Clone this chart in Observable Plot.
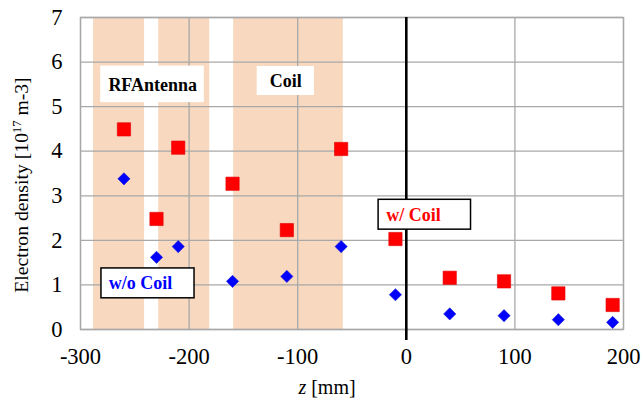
<!DOCTYPE html>
<html>
<head>
<meta charset="utf-8">
<script src="https://cdn.jsdelivr.net/npm/d3@7"></script>
<script src="https://cdn.jsdelivr.net/npm/@observablehq/plot@0.6"></script>
<style>
  html, body { margin: 0; padding: 0; background: #fff; }
  #chart svg, #chart svg text, #chart svg tspan { font-family: "Liberation Serif", "Times New Roman", "DejaVu Serif", serif !important; }
</style>
</head>
<body>
<div id="chart"></div>
<script>
// Data
const zPositions = [-260, -230, -210, -160, -110, -60, -10, 40, 90, 140, 190];
const densityWithCoil = [4.49, 2.48, 4.08, 3.27, 2.23, 4.05, 2.03, 1.16, 1.08, 0.81, 0.55];
const densityWithoutCoil = [3.38, 1.62, 1.86, 1.08, 1.19, 1.86, 0.78, 0.35, 0.31, 0.22, 0.16];

// Shaded regions (RF antenna and coil) in mm
const bandStart = [-288, -228, -159];
const bandEnd = [-241, -181, -58];

// Axis ticks
const xTicks = [-300, -200, -100, 0, 100, 200];
const yTicks = [0, 1, 2, 3, 4, 5, 6, 7];

// Annotation labels (data coordinates)
const plainLabels = [
  {text: "RFAntenna", x: -233.5, y: 5.47, x1: -281.4, x2: -186, y1: 5.09, y2: 5.91},
  {text: "Coil", x: -111, y: 5.57, x1: -137.3, x2: -84.6, y1: 5.25, y2: 5.9}
];
const seriesLabels = [
  {text: "w/o Coil", color: "#0000ff", x: -274, y: 1.03, x1: -280.7, x2: -195, y1: 0.70, y2: 1.37},
  {text: "w/ Coil", color: "#ff0000", x: -18.5, y: 2.57, x1: -25.5, x2: 59.6, y1: 2.24, y2: 2.91}
];

const bands = bandStart.map((s, i) => ({x1: s, x2: bandEnd[i]}));
const redPts = zPositions.map((z, i) => ({z, v: densityWithCoil[i]}));
const bluePts = zPositions.map((z, i) => ({z, v: densityWithoutCoil[i]}));

const gridColor = "#a8a8a8";
const font = "Liberation Serif, serif";

const chart = Plot.plot({
  width: 644,
  height: 407,
  marginLeft: 80,
  marginRight: 21,
  marginTop: 17,
  marginBottom: 78,
  style: {fontFamily: font, fontSize: "22.5px", color: "#000", background: "#fff"},
  x: {domain: [-300, 200], ticks: xTicks, tickFormat: d => String(d), label: null, tickSize: 0, tickPadding: 19},
  y: {domain: [0, 7], ticks: yTicks, tickFormat: d => String(d), label: null, tickSize: 0, tickPadding: 18},
  marks: [
    Plot.rectY(bands, {x1: "x1", x2: "x2", y1: 0, y2: 7, fill: "#f8d9c0"}),
    Plot.gridY(yTicks, {stroke: gridColor, strokeOpacity: 1, strokeWidth: 1.3}),
    Plot.gridX(xTicks, {stroke: gridColor, strokeOpacity: 1, strokeWidth: 1.3}),
    Plot.frame({stroke: gridColor, strokeWidth: 1.3}),
    Plot.ruleX([0], {y1: 7, y2: 0, stroke: "#000", strokeWidth: 2.6, insetBottom: -11}),
    Plot.rect(plainLabels, {x1: "x1", x2: "x2", y1: "y1", y2: "y2", fill: "#fff"}),
    Plot.text(plainLabels, {x: "x", y: "y", text: "text", fontWeight: "bold", fontSize: 18, fill: "#000"}),
    Plot.dot(bluePts, {x: "z", y: "v", symbol: "diamond2", r: 5.5, fill: "#0000ff", stroke: "#1a1acc", strokeWidth: 0.6}),
    Plot.dot(redPts, {x: "z", y: "v", symbol: "square", r: 7.5, fill: "#ff0000", stroke: "#e00000", strokeWidth: 0.6}),
    Plot.rect(seriesLabels, {x1: "x1", x2: "x2", y1: "y1", y2: "y2", fill: "#fff", stroke: "#000", strokeWidth: 1.5}),
    Plot.text(seriesLabels, {x: "x", y: "y", text: "text", fill: "color", textAnchor: "start", fontWeight: "bold", fontSize: 18})
  ]
});

document.getElementById("chart").appendChild(chart);

const svg = d3.select(chart);
// x-axis title
const xt = svg.append("text")
  .attr("x", 327).attr("y", 394)
  .attr("text-anchor", "middle")
  .attr("font-size", 20).attr("fill", "#000");
xt.append("tspan").attr("font-style", "italic").text("z");
xt.append("tspan").text(" [mm]");

// y-axis title
const yt = svg.append("text")
  .attr("transform", "translate(28,185) rotate(-90)")
  .attr("text-anchor", "middle")
  .attr("font-size", 19.7).attr("fill", "#000");
yt.append("tspan").text("Electron density [10");
yt.append("tspan").attr("font-size", 12.5).attr("dy", -7.5).text("17");
yt.append("tspan").attr("dy", 7.5).text(" m-3]");
</script>
</body>
</html>
